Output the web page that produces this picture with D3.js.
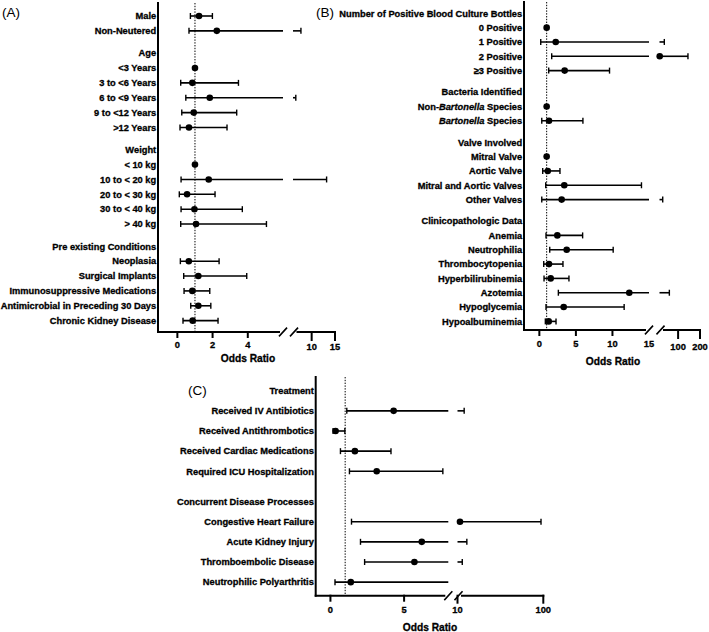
<!DOCTYPE html>
<html><head><meta charset="utf-8">
<script src="https://cdn.jsdelivr.net/npm/d3@7"></script>
<style>body{margin:0;background:#fff} svg text{font-family:"Liberation Sans",Arial,Helvetica,sans-serif;}
svg text.b{stroke:#000;stroke-width:0.3px;}</style>
</head><body><svg id="c" width="709" height="632"></svg>
<script>
// ---------- Panel A data ----------
const labelsA = ["Male","Non-Neutered","Age","<3 Years","3 to <6 Years","6 to <9 Years","9 to <12 Years",">12 Years","Weight","< 10 kg","10 to < 20 kg","20 to < 30 kg","30 to < 40 kg","> 40 kg","Pre existing Conditions","Neoplasia","Surgical Implants","Immunosuppressive Medications","Antimicrobial in Preceding 30 Days","Chronic Kidney Disease"];
const headersA = ["Age","Weight","Pre existing Conditions"];
const orA = [1.23,2.24,null,1.0,0.85,1.84,0.93,0.66,null,1.0,1.78,0.55,0.97,1.06,null,0.65,1.19,0.85,1.19,0.87];
const loA = [0.74,0.66,null,null,0.19,0.48,0.25,0.15,null,null,0.21,0.11,0.21,0.19,null,0.17,0.36,0.38,0.76,0.32];
const hiA = [1.99,7.7,null,null,3.47,6.6,3.37,2.82,null,null,13.2,2.14,3.69,5.06,null,2.37,3.94,1.84,1.90,2.31];
const ticks1A = [0,2,4], ticks2A = [10,15];

// ---------- Panel B data ----------
const labelsB = ["Number of Positive Blood Culture Bottles","0 Positive","1 Positive","2 Positive","≥3 Positive","Bacteria Identified","Non-*Bartonella* Species","*Bartonella* Species","Valve Involved","Mitral Valve","Aortic Valve","Mitral and Aortic Valves","Other Valves","Clinicopathologic Data","Anemia","Neutrophilia","Thrombocytopenia","Hyperbilirubinemia","Azotemia","Hypoglycemia","Hypoalbuminemia"];
const headersB = ["Number of Positive Blood Culture Bottles","Bacteria Identified","Valve Involved","Clinicopathologic Data"];
const orB = [null,1,2.24,16,3.46,null,1,1.32,null,1,1.15,3.41,3.05,null,2.46,3.74,1.32,1.55,12.3,3.33,1.28];
const loB = [null,null,0.19,1.69,1.28,null,null,0.33,null,null,0.46,0.87,0.33,null,0.91,1.42,0.6,0.64,2.6,0.91,0.82];
const hiB = [null,null,37,145,9.6,null,null,5.96,null,null,2.82,13.97,29.7,null,5.92,10.1,3.23,4.05,60,11.6,2.28];
const ticks1B = [0,5,10,15], ticks2B = [100,200];

// ---------- Panel C data ----------
const labelsC = ["Treatment","Received IV Antibiotics","Received Antithrombotics","Received Cardiac Medications","Required ICU Hospitalization","Concurrent Disease Processes","Congestive Heart Failure","Acute Kidney Injury","Thromboembolic Disease","Neutrophilic Polyarthritis"];
const headersC = ["Treatment","Concurrent Disease Processes"];
const orC = [null,4.29,0.35,1.66,3.14,null,12.6,6.2,5.7,1.38];
const loC = [null,1.11,0.18,0.68,1.29,null,1.43,2.04,2.32,0.31];
const hiC = [null,17,0.98,4.11,7.63,null,97.6,19.8,15,9];
const ticks1C = [0,5], ticks2C = [10,100];

const xTitle = "Odds Ratio";

const svg = d3.select("#c");
const FS = 9.3;

function addLabel(sel, str) {
  const parts = str.split("*");
  parts.forEach((p, i) => {
    if (!p) return;
    sel.append("tspan").attr("font-style", i % 2 === 1 ? "italic" : "normal").text(p);
  });
}

function drawPanel(p) {
  const g = svg.append("g");
  const s1 = d3.scaleLinear().domain(p.d1).range(p.r1);
  const s2 = d3.scaleLinear().domain(p.d2).range(p.r2);
  const xv = v => v <= p.d1[1] ? s1(v) : (v >= p.d2[0] ? s2(v) : null);
  const idx = []; let cur = 0;
  p.labels.forEach((l, i) => { if (i > 0) cur += p.headers.includes(l) ? 1.5 : 1; idx.push(cur); });
  const yS = d3.scaleLinear().domain([0, 1]).range([p.y0, p.y0 + p.step]);
  const x0 = p.r1[0];

  // reference line at OR = 1
  g.append("line").attr("x1", s1(1)).attr("x2", s1(1)).attr("y1", p.yTop).attr("y2", p.yAxis)
    .attr("stroke", "#000").attr("stroke-width", 1).attr("stroke-dasharray", "1.4,1.4");

  // labels
  p.labels.forEach((l, i) => {
    const t = g.append("text").attr("class", "b").attr("x", x0 - 1.8).attr("y", yS(idx[i]) + 3.3)
      .attr("text-anchor", "end").attr("font-size", FS).attr("font-weight", "bold").attr("fill", "#000");
    addLabel(t, l);
  });

  // error bars & points
  p.labels.forEach((l, i) => {
    const y = yS(idx[i]);
    const lo = p.lo[i], hi = p.hi[i], or = p.or[i];
    const ln = (a, b) => g.append("line").attr("x1", a).attr("x2", b).attr("y1", y).attr("y2", y)
      .attr("stroke", "#000").attr("stroke-width", 1.6);
    if (lo != null && hi != null) {
      if (lo < p.d1[1]) ln(s1(lo), s1(Math.min(hi, p.d1[1])));
      if (hi > p.d2[0]) ln(s2(Math.max(lo, p.d2[0])), s2(hi));
      [lo, hi].forEach(v => {
        const x = xv(v);
        if (x != null) g.append("line").attr("x1", x).attr("x2", x).attr("y1", y - 3).attr("y2", y + 3)
          .attr("stroke", "#000").attr("stroke-width", 1.4);
      });
    }
    if (or != null) g.append("circle").attr("cx", xv(or)).attr("cy", y).attr("r", 3.3).attr("fill", "#000");
  });

  // axes
  const ax = (x1, y1, x2, y2, w) => g.append("line").attr("x1", x1).attr("y1", y1).attr("x2", x2).attr("y2", y2)
    .attr("stroke", "#000").attr("stroke-width", w).attr("stroke-linecap", "square");
  ax(x0, p.yTop, x0, p.yAxis, 2);
  ax(x0, p.yAxis, p.r1[1] - 4, p.yAxis, 2);
  ax(p.r2[0] + 4.5, p.yAxis, p.r2[1], p.yAxis, 2);
  // break marks
  [p.r1[1], p.r2[0] + 1].forEach(cx => ax(cx - 3.5, p.yAxis + 3.8, cx + 3.5, p.yAxis - 3.8, 1.6));

  // ticks
  p.t1.forEach(v => {
    if (v < p.d1[1]) ax(s1(v), p.yAxis, s1(v), p.yAxis + p.tl1, 2);
    g.append("text").attr("class", "b").attr("x", s1(v)).attr("y", p.yAxis + p.lb1).attr("text-anchor", "middle")
      .attr("font-size", FS).attr("font-weight", "bold").text(v);
  });
  p.t2.forEach(v => {
    ax(s2(v), p.yAxis, s2(v), p.yAxis + p.tl2, 2);
    g.append("text").attr("class", "b").attr("x", s2(v)).attr("y", p.yAxis + p.lb2).attr("text-anchor", "middle")
      .attr("font-size", FS).attr("font-weight", "bold").text(v);
  });
  g.append("text").attr("class", "b").attr("x", p.xl[0]).attr("y", p.xl[1]).attr("text-anchor", "middle")
    .attr("font-size", 10.2).attr("font-weight", "bold").text(xTitle);
  g.append("text").attr("x", p.title[1]).attr("y", p.title[2]).attr("font-size", 13.5).text(p.title[0]);
}

drawPanel({labels: labelsA, headers: headersA, or: orA, lo: loA, hi: hiA, t1: ticks1A, t2: ticks2A,
  d1: [-1.1, 6], r1: [158, 283], d2: [6, 15], r2: [293, 335],
  yTop: 3, yAxis: 332, y0: 16, step: 14.86, tl1: 5, tl2: 8, lb1: 15.5, lb2: 18,
  xl: [248, 361.5], title: ["(A)", 2, 16.5]});

drawPanel({labels: labelsB, headers: headersB, or: orB, lo: loB, hi: hiB, t1: ticks1B, t2: ticks2B,
  d1: [-2.1, 15], r1: [524, 649], d2: [15, 200], r2: [659.5, 700],
  yTop: 2, yAxis: 330, y0: 13.3, step: 14.33, tl1: 5, tl2: 8, lb1: 16.5, lb2: 20,
  xl: [613, 365], title: ["(B)", 316, 16.5]});

drawPanel({labels: labelsC, headers: headersC, or: orC, lo: loC, hi: hiC, t1: ticks1C, t2: ticks2C,
  d1: [-1, 8], r1: [315.7, 448.3], d2: [10, 100], r2: [457.5, 543.3],
  yTop: 377, yAxis: 595.7, y0: 390.7, step: 20.15, tl1: 5, tl2: 7, lb1: 17.5, lb2: 17.5,
  xl: [430, 630.5], title: ["(C)", 188, 395]});
</script>
</body></html>
